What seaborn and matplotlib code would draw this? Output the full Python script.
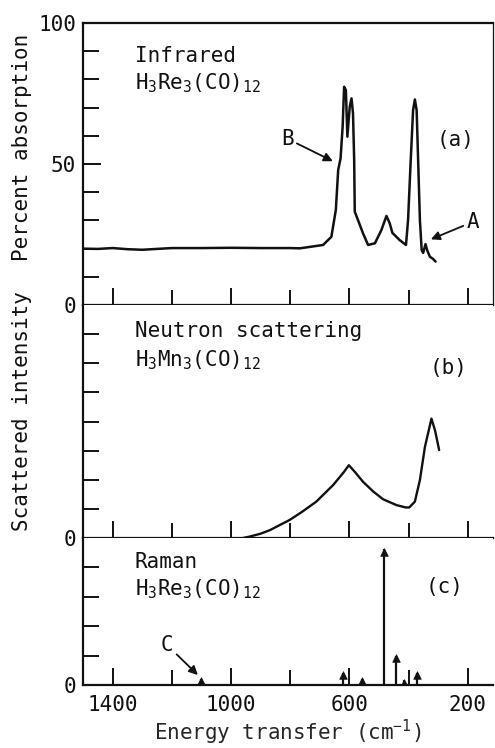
import matplotlib
matplotlib.use('Agg')
import matplotlib.pyplot as plt
import seaborn as sns

# (a) infrared absorption of H3Re3(CO)12
ir_energy = [1500, 1450, 1400, 1350, 1300, 1250, 1200, 1100, 1000, 900, 800, 768,
             689, 661, 646, 638, 630, 623, 618, 612, 607, 599, 593, 588, 584, 582,
             571, 554, 537, 514, 492, 475, 464, 455, 430, 409, 402, 393, 385, 379,
             373, 368, 362, 356, 351, 343, 337, 328, 318, 309]
ir_absorb = [20.0, 19.9, 20.2, 19.8, 19.6, 19.9, 20.2, 20.2, 20.3, 20.2, 20.2, 20.1,
             21.3, 24.2, 33.7, 47.9, 52.0, 63.2, 77.4, 76.2, 59.7, 70.3, 73.3, 68.0,
             51.4, 33.1, 30.1, 25.4, 21.3, 21.9, 26.6, 31.6, 29.0, 25.6, 23.0, 21.3,
             30.1, 51.4, 69.1, 72.9, 69.1, 51.4, 30.1, 19.5, 18.5, 21.6, 19.3, 17.1,
             16.4, 15.4]

# (b) neutron scattering of H3Mn3(CO)12
ins_energy = [960, 937, 900, 869, 802, 760, 712, 655, 620, 602, 580, 554, 520,
              486, 441, 410, 398, 379, 362, 345, 323, 311, 297]
ins_intensity = [0.0, 0.05, 0.15, 0.27, 0.62, 0.9, 1.25, 1.82, 2.25, 2.5, 2.25,
                 1.93, 1.6, 1.33, 1.13, 1.05, 1.05, 1.25, 1.99, 3.13, 4.1, 3.7, 3.02]

# (c) raman lines of H3Re3(CO)12
raman_energy = [1102, 621, 556, 484, 443, 416, 371]
raman_height = [0.22, 0.42, 0.22, 4.62, 1.0, 0.16, 0.42]

x_major = [1400, 1000, 600, 200]
x_minor = [1200, 800, 400]

ink = '#111111'

sns.set_theme(style='ticks')
plt.rcParams['font.family'] = ['DejaVu Sans Mono', 'DejaVu Sans']
plt.rcParams['mathtext.fontset'] = 'custom'
plt.rcParams['mathtext.rm'] = 'DejaVu Sans Mono'
plt.rcParams['mathtext.it'] = 'DejaVu Sans Mono'
plt.rcParams['text.color'] = ink
fs = 15

fig = plt.figure(figsize=(4.95, 7.48), dpi=100)
ax_a = fig.add_axes([0.1677, 0.5922, 0.8283, 0.377])
ax_b = fig.add_axes([0.1677, 0.2807, 0.8283, 0.3115])
ax_c = fig.add_axes([0.1677, 0.0842, 0.8283, 0.1965])


def style_panel(ax, ymax, ymaj, ymin, ylab):
    ax.set_xlim(1500, 115)
    ax.set_ylim(0, ymax)
    ax.set_xticks(x_major)
    ax.set_xticks(x_minor, minor=True)
    ax.set_yticks(ymaj)
    ax.set_yticklabels(ylab)
    ax.set_yticks(ymin, minor=True)
    ax.tick_params(which='both', direction='in', width=1.4, color=ink,
                   labelcolor=ink, labelsize=fs, top=False, right=False)
    ax.tick_params(axis='x', which='major', length=12, pad=7)
    ax.tick_params(axis='x', which='minor', length=11)
    ax.tick_params(axis='y', which='major', length=13, pad=5)
    ax.tick_params(axis='y', which='minor', length=11.5)
    for s in ax.spines.values():
        s.set_linewidth(1.6)
        s.set_color(ink)
    ax.set_xlabel('')
    ax.set_ylabel('')


style_panel(ax_a, 100, [0, 50, 100], [10, 20, 30, 40, 60, 70, 80, 90], ['0', '50', '100'])
style_panel(ax_b, 8, [0], [1, 2, 3, 4, 5, 6, 7], ['0'])
style_panel(ax_c, 5, [0], [1, 2, 3, 4], ['0'])
ax_a.tick_params(axis='x', which='both', labelbottom=False)
ax_b.tick_params(axis='x', which='both', labelbottom=False)
ax_a.spines['right'].set_linewidth(0.9)
for ax in (ax_b, ax_c):
    ax.spines['top'].set_visible(False)
    ax.spines['right'].set_visible(False)

# (a) infrared
sns.lineplot(x=ir_energy, y=ir_absorb, ax=ax_a, color=ink, lw=1.8,
             sort=False, estimator=None)
ax_a.text(1326, 86.2, 'Infrared', fontsize=fs, va='baseline')
ax_a.text(1326, 76.6, r'H$_3$Re$_3$(CO)$_{12}$', fontsize=fs, va='baseline')
ax_a.text(240, 58.5, '(a)', fontsize=fs, ha='center', va='center')
arrow = dict(arrowstyle='-|>', lw=1.3, color=ink, mutation_scale=13, shrinkA=0, shrinkB=0)
ax_a.annotate('B', xy=(656, 51), xytext=(810, 59), fontsize=fs,
              ha='center', va='center', arrowprops=arrow)
ax_a.annotate('A', xy=(325, 23.3), xytext=(183, 29.5), fontsize=fs,
              ha='center', va='center', arrowprops=arrow)

# (b) neutron
sns.lineplot(x=ins_energy, y=ins_intensity, ax=ax_b, color=ink, lw=1.7,
             sort=False, estimator=None)
ax_b.text(1326, 6.9, 'Neutron scattering', fontsize=fs, va='baseline')
ax_b.text(1326, 5.9, r'H$_3$Mn$_3$(CO)$_{12}$', fontsize=fs, va='baseline')
ax_b.text(264, 5.84, '(b)', fontsize=fs, ha='center', va='center')

# (c) raman sticks with small arrowheads
ax_c.vlines(raman_energy, 0, raman_height, color=ink, lw=1.6)
sns.scatterplot(x=raman_energy, y=[h - 0.08 for h in raman_height], ax=ax_c,
                marker='^', s=30, color=ink, edgecolor=ink, linewidth=0.5, zorder=3)
ax_c.text(1326, 3.98, 'Raman', fontsize=fs, va='baseline')
ax_c.text(1326, 3.06, r'H$_3$Re$_3$(CO)$_{12}$', fontsize=fs, va='baseline')
ax_c.text(278, 3.33, '(c)', fontsize=fs, ha='center', va='center')
ax_c.annotate('C', xy=(1112, 0.34), xytext=(1216, 1.36), fontsize=fs,
              ha='center', va='center', arrowprops=arrow)
ax_c.set_xlabel(r'Energy transfer (cm$^{-1}$)', fontsize=fs, labelpad=2)

fig.text(0.0444, 0.8035, 'Percent absorption', fontsize=fs, rotation=90,
         ha='center', va='center')
fig.text(0.0444, 0.4505, 'Scattered intensity', fontsize=fs, rotation=90,
         ha='center', va='center')

fig.savefig('out.png', dpi=100, facecolor='white')
